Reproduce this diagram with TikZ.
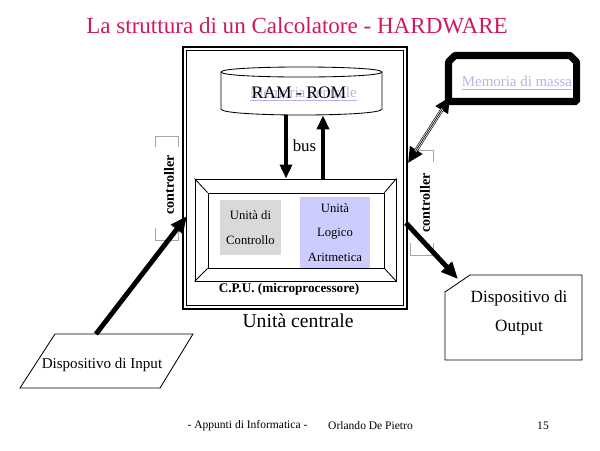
\documentclass[tikz,border=0pt]{standalone}
\usepackage{fontspec}
\setmainfont{Liberation Serif}
\usepackage{xcolor}
\usepackage{tikz}
\usetikzlibrary{arrows.meta,shapes.misc}

\definecolor{titlered}{RGB}{208,24,96}
\definecolor{linkblue}{RGB}{180,180,232}
\definecolor{cugray}{RGB}{217,217,217}
\definecolor{alublue}{RGB}{204,204,255}

\tikzset{
  titletext/.style={text=titlered,font=\fontsize{16.4}{19}\selectfont},
  linktext/.style={text=linkblue},
  unittext/.style={align=center,font=\fontsize{9}{17.5}\selectfont},
  ctrltext/.style={rotate=90,font=\bfseries\fontsize{10}{12}\selectfont},
  bracket/.style={draw=gray!70,line width=0.6pt},
  bigarrow/.style={line width=3.5pt,-{Triangle[length=12pt,width=10pt]}},
  busarrow/.style={line width=2.8pt,-{Triangle[length=10pt,width=8.5pt]}},
  foot/.style={font=\fontsize{8.2}{10}\selectfont},
  massabox/.style={draw,line width=5pt,line join=bevel,chamfered rectangle,chamfered rectangle corners={north west,north east},chamfered rectangle xsep=1.5pt,minimum width=3.2cm,minimum height=1.15cm}
}

\begin{document}
\begin{tikzpicture}[x=0.025cm,y=-0.025cm]
\useasboundingbox (0,0) rectangle (600,450);
\node[titletext] (title) at (297,26) {La struttura di un Calcolatore - HARDWARE};

\node[draw,line width=2pt,minimum width=5.6cm,minimum height=6.55cm] (uc) at (295,178) {};
\draw[line width=0.8pt] ([shift={(5,5)}]uc.north west) rectangle ([shift={(-5,-5)}]uc.south east);
\node[font=\fontsize{14}{16}\selectfont] (ucLabel) at (298,321) {Unità centrale};

\draw[line width=0.6pt] (221,72) .. controls (221,65.3) and (382,65.3) .. (382,72) -- (382,109) .. controls (382,117) and (221,117) .. (221,109) -- cycle;
\draw[line width=0.6pt] (221,72) .. controls (221,78.7) and (382,78.7) .. (382,72);
\node[linktext,font=\fontsize{10.7}{12}\selectfont] (ramLink) at (303.5,94) {\underline{Memoria centrale}};
\node[minimum width=4.025cm,minimum height=1.1cm,font=\fontsize{12.5}{14}\selectfont] (ram) at (299,93) {RAM - ROM};

\node[draw,line width=0.6pt,minimum width=5.025cm,minimum height=2.55cm] (cpu) at (295.5,230) {};
\node[draw,line width=0.6pt,minimum width=4.4cm,minimum height=1.875cm] (cpuIn) at (296,230.5) {};
\foreach \c in {north west,north east,south west,south east}
  \draw[line width=0.6pt] (cpu.\c) -- (cpuIn.\c);
\node[fill=cugray,minimum width=1.525cm,minimum height=1.375cm,unittext] (cu) at (250.5,227.5) {Unità di\\Controllo};
\node[fill=alublue,minimum width=1.75cm,minimum height=1.775cm,unittext] (alu) at (335,232.5) {Unità\\Logico\\Aritmetica};
\node[font=\bfseries\fontsize{9.4}{11}\selectfont] (cpuLabel) at (289,289) {C.P.U. (microprocessore)};

\coordinate (busL) at (286,0);
\coordinate (busR) at (323,0);
\draw[busarrow] (ram.south -| busL) -- (cpu.north -| busL);
\draw[busarrow] (cpu.north -| busR) -- (ram.south -| busR);
\node[font=\fontsize{12}{14}\selectfont] (busLabel) at (304.5,146) {bus};

\node[ctrltext] (ctrlL) at (169,185) {controller};
\node[ctrltext] (ctrlR) at (425,203) {controller};
\draw[bracket] (155,147) -- (155,136) -- (178,136) -- (178,147);
\draw[bracket] (155,228) -- (155,240) -- (178,240) -- (178,228);
\draw[bracket] (410,162) -- (410,150) -- (433,150) -- (433,162);
\draw[bracket] (410,243) -- (410,255) -- (433,255) -- (433,243);

\node[massabox] (massa) at (512.5,78.5) {};
\fill ([shift={(3.5,-6.5)}]massa.south west) rectangle ([shift={(-3.5,-3.5)}]massa.south east);
\node[linktext,font=\fontsize{10.6}{12}\selectfont] (massaText) at (517,83) {\underline{Memoria di massa}};

\coordinate (massaEnd) at (450,97);
\coordinate (ctrlREnd) at (408,163);
\draw[line width=2.5pt,{Triangle[length=11pt,width=10pt]}-{Triangle[length=11pt,width=10pt]}] (ctrlREnd) -- (massaEnd);
\draw[white,line width=1.6pt,shorten <=10pt,shorten >=10pt] (ctrlREnd) -- (massaEnd);
\draw[line width=0.5pt,shorten <=10pt,shorten >=10pt] (ctrlREnd) -- (massaEnd);

\draw[line width=0.6pt] (55,334) -- (193,334) -- (160,388) -- (20,388) -- cycle;
\node[font=\fontsize{10.7}{12}\selectfont] (input) at (102,365) {Dispositivo di Input};
\coordinate (inTop) at (96,334);
\coordinate (inTip) at (187,216);
\draw[bigarrow] (inTop) -- (inTip);

\draw[line width=0.6pt] (445,292) -- (470,275) -- (582,275) -- (582,360) -- (445,360) -- cycle;
\node[align=center,font=\fontsize{12.2}{21}\selectfont] (output) at (519,313) {Dispositivo di\\Output};
\coordinate (outStart) at (406,223);
\coordinate (outTip) at (458,279);
\draw[bigarrow] (outStart) -- (outTip);

\node[foot] (footL) at (247.5,426) {- Appunti di Informatica -};
\node[foot] (footM) at (370.5,426) {Orlando De Pietro};
\node[foot] (footR) at (543,426) {15};
\end{tikzpicture}
\end{document}
